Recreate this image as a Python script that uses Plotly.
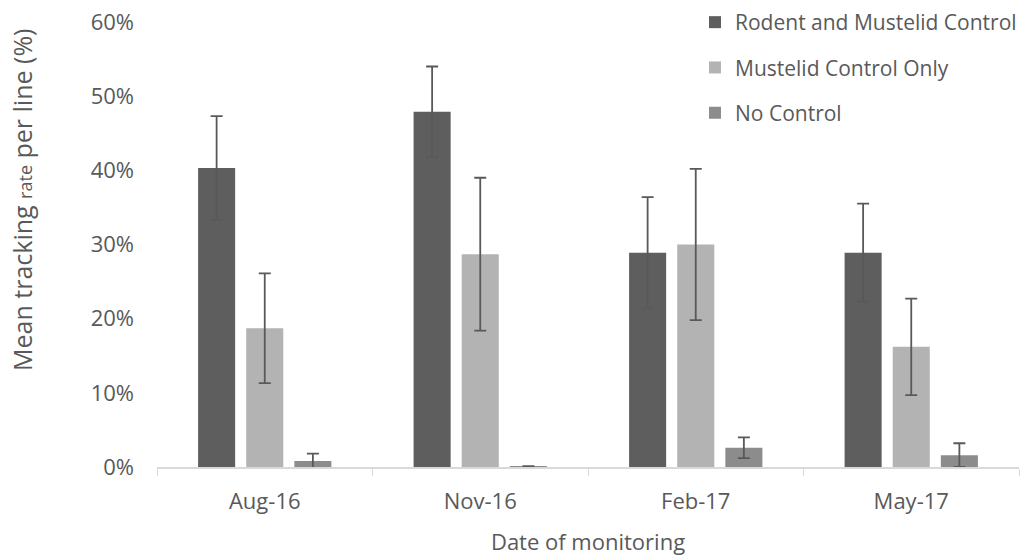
import plotly.graph_objects as go

categories = ["Aug-16", "Nov-16", "Feb-17", "May-17"]
series_names = ["Rodent and Mustelid Control", "Mustelid Control Only", "No Control"]
rodent_mustelid = [40.3, 47.9, 28.9, 28.9]
rodent_mustelid_err = [7.0, 6.1, 7.5, 6.6]
mustelid_only = [18.7, 28.7, 30.0, 16.2]
mustelid_only_err = [7.4, 10.3, 10.2, 6.5]
no_control = [0.8, 0.1, 2.6, 1.6]
no_control_err = [1.0, 0.0, 1.4, 1.6]
y_ticks = [0, 10, 20, 30, 40, 50, 60]
y_tick_labels = ["0%", "10%", "20%", "30%", "40%", "50%", "60%"]

colors = ["#5e5e5e", "#b3b3b3", "#8c8c8c"]
values = [rodent_mustelid, mustelid_only, no_control]
errors = [rodent_mustelid_err, mustelid_only_err, no_control_err]

fig = go.Figure()
for i, name in enumerate(series_names):
    fig.add_trace(go.Bar(
        x=categories, y=values[i], name=name,
        marker=dict(color=colors[i], line=dict(width=0)),
        legendgroup=f"g{i}",
        error_y=dict(type="data", array=errors[i], visible=True,
                     color="#595959", thickness=1.8, width=6),
    ))

font_family = "Open Sans, Liberation Sans, sans-serif"
# paper area: x 157..1021 (864 px), y 0..467 (467 px)
fig.update_layout(
    width=1021, height=556,
    margin=dict(l=157, r=0, t=0, b=89, autoexpand=False),
    paper_bgcolor="white", plot_bgcolor="white",
    barmode="group", bargap=0.33, bargroupgap=0.23,
    font=dict(family=font_family, color="#595959", size=21),
    legend=dict(x=0.6227, xanchor="left", y=0.9957, yanchor="top",
                font=dict(size=21, color="#595959"),
                tracegroupgap=15, itemwidth=30, bgcolor="rgba(0,0,0,0)"),
    showlegend=True,
)
fig.update_xaxes(
    domain=[0, 862 / 864],
    automargin=False,
    showline=True, linecolor="#d9d9d9", linewidth=1.5,
    ticks="outside", tickson="boundaries", ticklen=7, tickcolor="#d9d9d9",
    tickfont=dict(size=22, color="#595959"), ticklabelstandoff=14,
    title=dict(text="Date of monitoring", font=dict(size=22, color="#595959"), standoff=22),
    showgrid=False,
)
fig.update_yaxes(
    domain=[0, 445 / 467],
    automargin=False,
    range=[0, 60], tickvals=y_ticks, ticktext=y_tick_labels,
    showgrid=False, showline=False, zeroline=False,
    tickfont=dict(size=22, color="#595959"), ticklabelstandoff=22,
)
fig.add_annotation(
    text="Mean tracking <span style='font-size:18px'>rate</span> per line (%)",
    xref="paper", yref="paper", x=-0.1563, y=0.5717, xanchor="center", yanchor="middle",
    textangle=-90, showarrow=False, font=dict(size=25, color="#595959", family=font_family),
)
fig.write_html("out.html")
